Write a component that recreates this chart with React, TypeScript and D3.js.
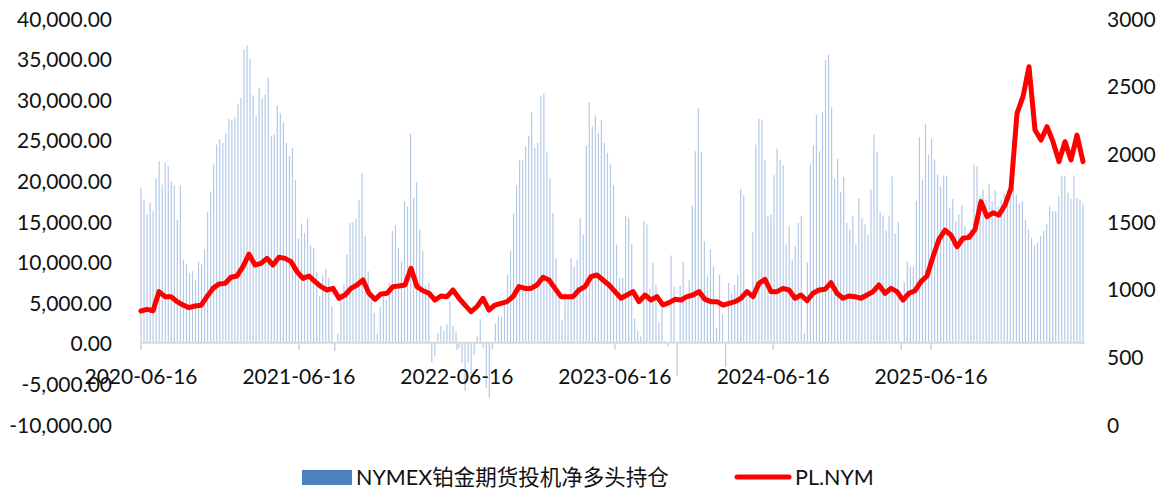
import { useEffect, useRef } from 'react';
import * as d3 from 'd3';

// 周度数据，起始 2020-06-16
const startDate = '2020-06-16';

// NYMEX铂金期货投机净多头持仓（周）
const netLong: number[] = [
  19070, 17630, 15790, 17220, 16200, 20300, 22350, 19470, 22140, 21730,
  19880, 19350, 15170, 19350, 10250, 9720, 8610, 8820, 7790, 9960,
  9640, 11490, 16080, 18660, 21950, 24410, 25030, 24620, 25770, 27570,
  27410, 27820, 29460, 30160, 36100, 36600, 34960, 30490, 27900, 31390,
  30160, 30570, 32620, 25520, 25640, 29210, 28230, 27160, 24620, 22980,
  24000, 20020,
  12840, 14690, 13540, 15260, 12020, 11690, 8700, 5740, 8290, 9110,
  8000, 4510, -1030, 1150, 6150, 7180, 10870, 14770, 14850, 15260,
  17560, 20920, 13130, 8820, 5740, 3690, 1150, 4390, 6150, 5250,
  7380, 13740, 14480, 11690, 10050, 17440, 16820, 25770, 17850, 19780,
  13950, 11280, 6970, 7380, -2380, -1640, 1230, 2050, 1440, 2260,
  5130,
  2130, 1440, -620, -2460, -5950, -2460, -3900, -1440, 820, 2870,
  -620, -5540, -6770, -820, 2380, 3280, 3200, 4920, 8410, 11280,
  16000, 19370, 22480, 22480, 24200, 25520, 28390, 24000, 24620, 30440,
  30690, 23470, 20310, 16000, 10460, 6150, 2870, 6150, 5950, 10460,
  9440, 10250, 15390, 13330, 24290, 29620, 26670, 27980, 25850, 27410,
  24620, 23390,
  21950, 19410, 12100, 8000, 8000, 15670, 15390, 12190, 2950, 1500,
  820, 14980, 14570, 6650, 9850, 7180, 2460, 4300, 210, -410,
  10750, 6970, -4100, 7060, 9970, 5130, 7710, 16900, 23590, 28930,
  23470, 12510, 8290, 11490, 9440, 1850, 8410, 3490, -3000, 7380,
  6150, 7180, 8410, 18960, 18180, 6560, 6150, 13620, 24410, 27570,
  27490, 22570,
  15590, 15800, 20640, 23920, 22570, 21870, 12100, 14280, 10250, 11900,
  14770, 15670, 1230, 9930, 21950, 24330, 28100, 23590, 28390, 34790,
  35490, 29000, 20190, 22650, 18590, 20430, 14770, 13950, 15590, 12100,
  17770, 15390, 14570, 13330, 18870, 25640, 23470, 16080, 15670, 13830,
  15590, 20510, 13460, 14850, -820, 7470, 9970, 9440, 9350, 17440,
  25310, 20020,
  26960, 23180, 25150, 22570, 20720, 19280, 20600, 20600, 16620, 17720,
  14980, 15800, 16900, 14360, 13540, 13950, 21950, 21750, 18050, 18870,
  17640, 19490, 17440, 18790, 16820, 17640, 18460, 18050, 18050, 19280,
  18260, 17230, 17440, 15100, 13950, 12920, 11980, 12310, 13130, 13750,
  14650, 16820, 16210, 16210, 18050, 20520, 20520, 18460, 17720, 20600,
  17850, 17640, 17150,
];

// PL.NYM 价格（约两周一个点）
const platinum: number[] = [
  835, 847, 837, 978, 941, 941, 904, 879, 860, 872,
  877, 941, 1002, 1034, 1039, 1084, 1094, 1163, 1255, 1175,
  1187, 1224, 1175, 1232, 1224, 1200, 1126,
  1076, 1094, 1052, 1015, 990, 1002, 929, 953, 1002, 1027,
  1064, 966, 921, 961, 966, 1015, 1020, 1027, 1150, 1015,
  985, 966, 916, 946, 941, 990,
  929, 879, 830, 867, 929, 842, 879, 892, 904, 941,
  1015, 1002, 1002, 1027, 1084, 1064, 1002, 941, 941, 941,
  990, 1015, 1089, 1101, 1064, 1027,
  978, 929, 953, 978, 904, 953, 916, 941, 879, 897,
  921, 916, 941, 953, 978, 921, 904, 904, 879, 892,
  904, 929, 978, 941, 1039, 1069, 978,
  978, 1002, 990, 929, 953, 911, 966, 990, 995, 1044,
  966, 929, 946, 941, 929, 953, 978, 1027, 966, 1002,
  978, 916, 966, 985, 1052, 1094,
  1236, 1365, 1433, 1396, 1310, 1372, 1379, 1438, 1643, 1532,
  1561, 1544, 1618, 1741, 2295, 2419, 2640, 2172, 2098, 2197,
  2086, 1939, 2086, 1951, 2135, 1939,
];

const xTickLabels = ['2020-06-16', '2021-06-16', '2022-06-16', '2023-06-16', '2024-06-16', '2025-06-16'];
const leftTicks = [-10000, -5000, 0, 5000, 10000, 15000, 20000, 25000, 30000, 35000, 40000];
const rightTicks = [0, 500, 1000, 1500, 2000, 2500, 3000];
const seriesNames = ['NYMEX铂金期货投机净多头持仓', 'PL.NYM'];

const App = () => {
  const svgRef = useRef<SVGSVGElement>(null);

  useEffect(() => {
    if (!svgRef.current) return;
    const svg = d3.select(svgRef.current);
    svg.selectAll('*').remove();

    const font = "Lato, 'Noto Sans CJK SC', sans-serif";
    const textColor = '#111';
    const left = 141;
    const right = 1083;
    const top = 18;
    const bottom = 424;

    const parse = d3.timeParse('%Y-%m-%d');
    const start = parse(startDate) as Date;
    const dates = netLong.map((_, i) => d3.timeDay.offset(start, i * 7));

    const x = d3.scaleTime()
      .domain([dates[0], dates[dates.length - 1]])
      .range([left, right]);
    // 价格点按序号铺满同一范围
    const xLine = d3.scaleLinear()
      .domain([0, platinum.length - 1])
      .range([left, right]);

    const yL = d3.scaleLinear().domain([-10000, 40000]).range([bottom, top]);
    const yR = d3.scaleLinear().domain([0, 3000]).range([bottom, top]);
    const y0 = yL(0);

    // 柱子
    svg.append('g')
      .selectAll('rect')
      .data(netLong)
      .join('rect')
      .attr('x', (_, i) => x(dates[i]) - 0.6)
      .attr('width', 1.2)
      .attr('y', d => Math.min(yL(d), y0))
      .attr('height', d => Math.abs(yL(d) - y0))
      .attr('fill', '#b3c9e7');

    // 横轴
    svg.append('line')
      .attr('x1', left)
      .attr('x2', right + 2)
      .attr('y1', y0)
      .attr('y2', y0)
      .attr('stroke', '#d9d9d9')
      .attr('stroke-width', 2);

    xTickLabels.forEach(label => {
      const tx = x(parse(label) as Date);
      svg.append('line')
        .attr('x1', tx)
        .attr('x2', tx)
        .attr('y1', y0)
        .attr('y2', y0 + 7)
        .attr('stroke', '#d9d9d9')
        .attr('stroke-width', 2);
      svg.append('text')
        .attr('x', tx)
        .attr('y', 375)
        .attr('text-anchor', 'middle')
        .attr('dominant-baseline', 'central')
        .attr('font-family', font)
        .attr('font-size', 21)
        .attr('fill', textColor)
        .text(label);
    });

    // 左轴
    leftTicks.forEach(v => {
      svg.append('text')
        .attr('x', 112)
        .attr('y', yL(v))
        .attr('text-anchor', 'end')
        .attr('dominant-baseline', 'central')
        .attr('font-family', font)
        .attr('font-size', 21)
        .attr('fill', textColor)
        .text(d3.format(',.2f')(v).replace('−', '-'));
    });

    // 右轴
    rightTicks.forEach(v => {
      svg.append('text')
        .attr('x', 1107)
        .attr('y', yR(v))
        .attr('text-anchor', 'start')
        .attr('dominant-baseline', 'central')
        .attr('font-family', font)
        .attr('font-size', 21)
        .attr('fill', textColor)
        .text(String(v));
    });

    // 价格线
    const line = d3.line<number>()
      .x((_, i) => xLine(i))
      .y(d => yR(d));
    svg.append('path')
      .datum(platinum)
      .attr('d', line)
      .attr('fill', 'none')
      .attr('stroke', '#ff0000')
      .attr('stroke-width', 5)
      .attr('stroke-linejoin', 'round')
      .attr('stroke-linecap', 'round');

    // 图例
    const ly = 477;
    svg.append('rect')
      .attr('x', 302)
      .attr('y', ly - 7)
      .attr('width', 50)
      .attr('height', 15)
      .attr('fill', '#4f81bd');
    svg.append('text')
      .attr('x', 356)
      .attr('y', ly)
      .attr('dominant-baseline', 'central')
      .attr('font-family', font)
      .attr('font-size', 21.5)
      .attr('fill', textColor)
      .text(seriesNames[0]);
    svg.append('line')
      .attr('x1', 737)
      .attr('x2', 789)
      .attr('y1', ly)
      .attr('y2', ly)
      .attr('stroke', '#ff0000')
      .attr('stroke-width', 5)
      .attr('stroke-linecap', 'round');
    svg.append('text')
      .attr('x', 795)
      .attr('y', ly)
      .attr('dominant-baseline', 'central')
      .attr('font-family', font)
      .attr('font-size', 21.5)
      .attr('fill', textColor)
      .text(seriesNames[1]);
  }, []);

  return (
    <svg
      ref={svgRef}
      width="1160"
      height="488"
      style={{ position: 'absolute', left: 0, top: 0, background: '#fff' }}
    />
  );
};

export default App;
